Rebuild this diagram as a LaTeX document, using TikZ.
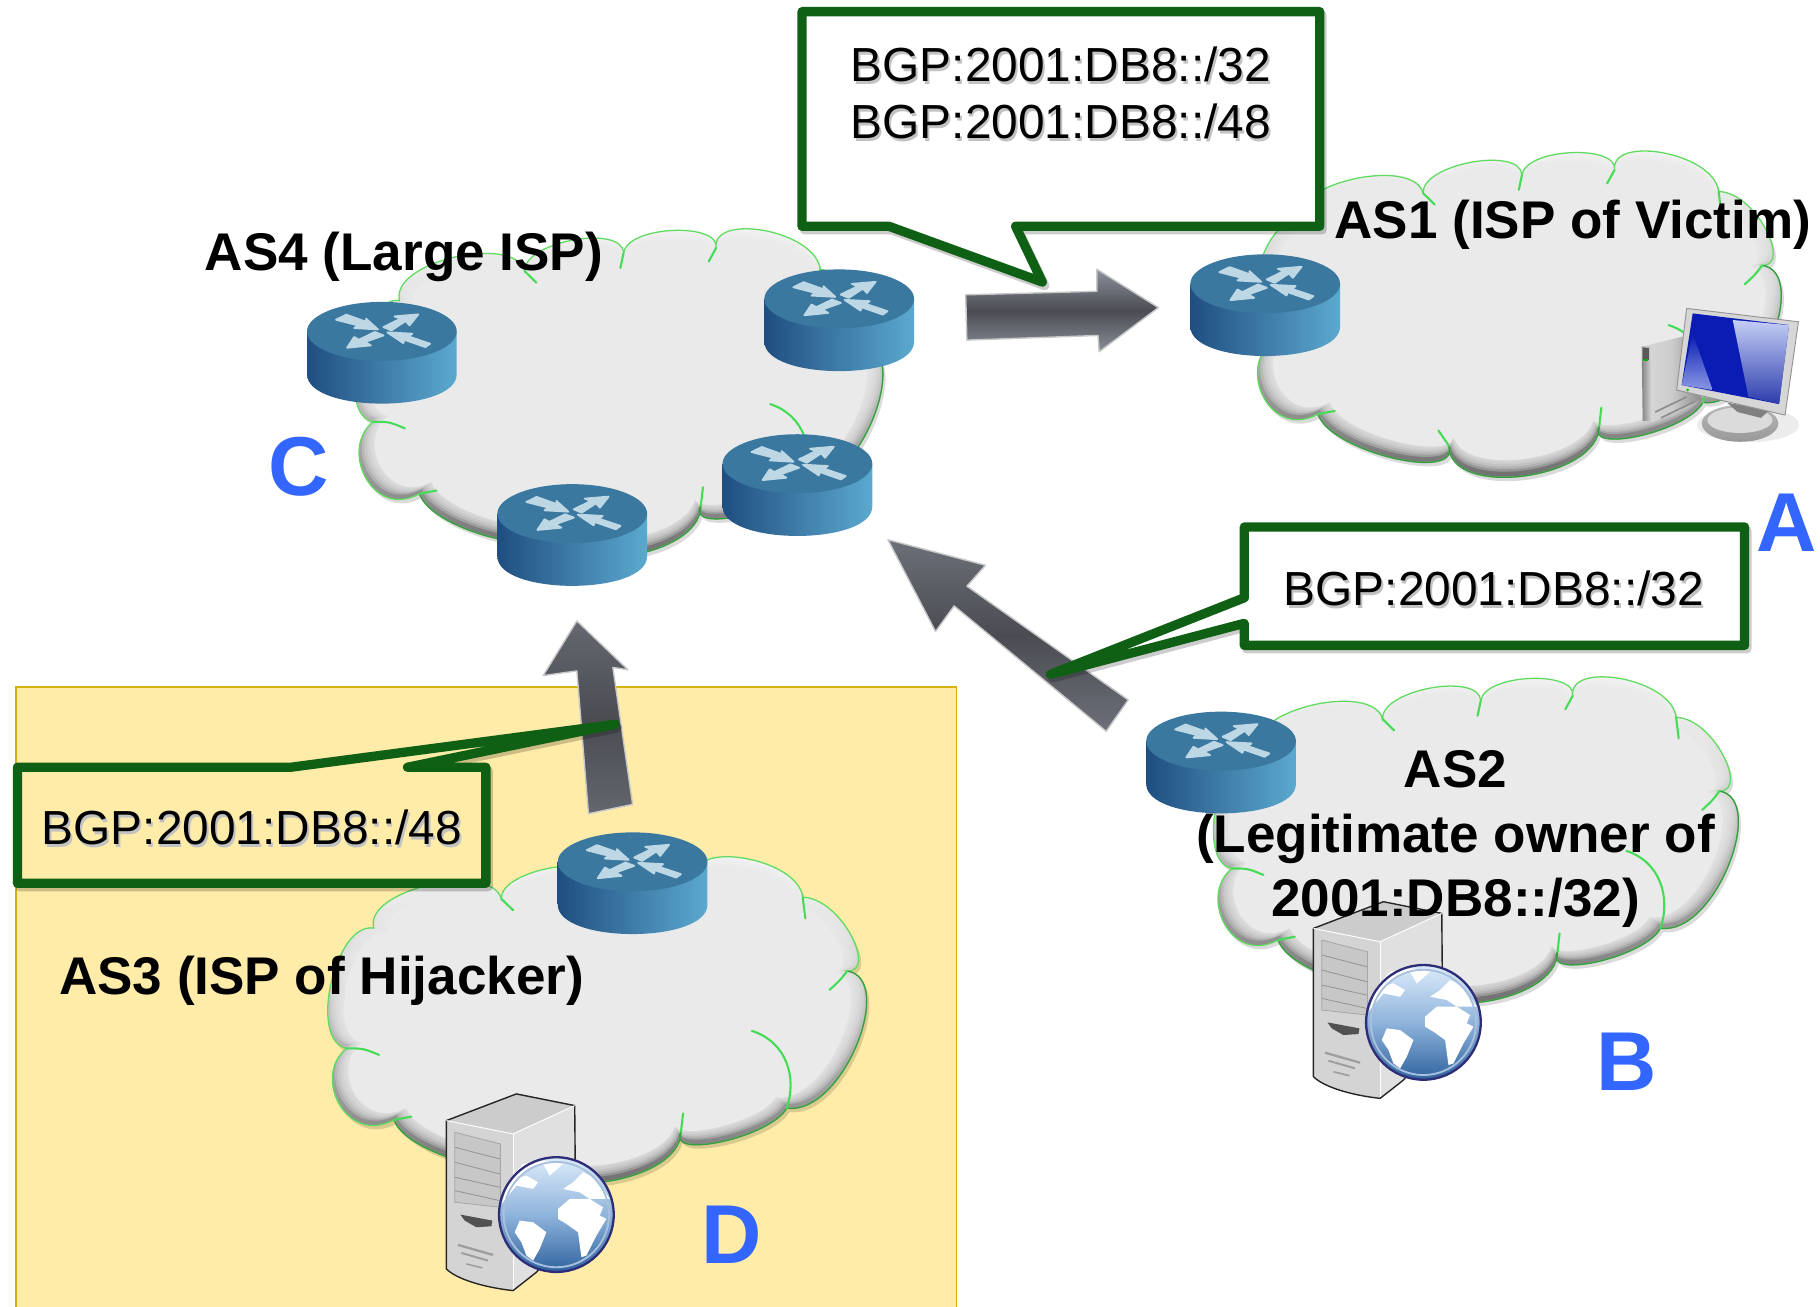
\documentclass[tikz,border=0pt]{standalone}
\usepackage{fontspec}
\setmainfont{Liberation Sans}
\definecolor{bgyel}{HTML}{FFECA8}
\definecolor{bgedge}{HTML}{D6B00C}
\definecolor{cgreen}{HTML}{0F5F14}
\definecolor{cloudg}{HTML}{EAEAEA}
\definecolor{cloudl}{HTML}{5FDC5F}
\definecolor{cloudd}{HTML}{3C9A44}
\definecolor{cloudt}{HTML}{45DC55}
\definecolor{rtop}{HTML}{3B78A0}
\definecolor{rleft}{HTML}{1F4E80}
\definecolor{rmid}{HTML}{3F7CA8}
\definecolor{rright}{HTML}{5BA9CF}
\definecolor{rarr}{HTML}{BDD7E5}
\definecolor{lblue}{HTML}{3366FF}
\definecolor{adark}{HTML}{4A4C52}
\definecolor{aedge}{HTML}{9CA1AC}
\definecolor{globet}{HTML}{DCEBFA}
\definecolor{globem}{HTML}{8FB4DC}
\definecolor{globeb}{HTML}{2F639F}
\definecolor{glober}{HTML}{2E2E78}
\definecolor{globei}{HTML}{A9C0DC}
\definecolor{scrn}{HTML}{0A1CB4}
\definecolor{scrnl}{HTML}{C4CEF6}
\definecolor{scrnd}{HTML}{2C3CAC}
\definecolor{scrns}{HTML}{8A98E4}
\newcommand\cloudP{(.03,.59) .. controls (-.043,.57) and (.007,.2) .. (.08,.22)
 .. controls (.061,.10) and (.299,.015) .. (.318,.13)
 .. controls (.315,.04) and (.503,-.015) .. (.506,.074)
 .. controls (.514,-.01) and (.69,-.02) .. (.682,.059)
 .. controls (.674,-.05) and (.872,.005) .. (.88,.125)
 .. controls (.951,.127) and (1.02,.354) .. (.963,.352)
 .. controls (1.055,.375) and (.955,.797) .. (.85,.774)
 .. controls (.821,.863) and (.624,.935) .. (.653,.846)
 .. controls (.653,1.011) and (.367,1.072) .. (.367,.907)
 .. controls (.39,1.022) and (.141,.925) .. (.118,.81)
 .. controls (.026,.89) and (-.035,.67) .. (.03,.59) -- cycle}
\newcommand\shtext[1]{\rlap{\kern1.5pt\raisebox{-2.5pt}{\textcolor{black!24}{#1}}}#1}
\tikzset{
 bgptext/.style={font=\fontsize{41.2}{49}\selectfont,inner sep=0pt,align=center,text=black},
 aslabel/.style={font=\fontsize{45.7}{55.5}\selectfont\bfseries,inner sep=0pt,align=center,text=black},
 bigletter/.style={font=\fontsize{72}{72}\selectfont\bfseries,inner sep=0pt,text=lblue},
 callout/.style={draw=cgreen,line width=8pt,line join=round,line cap=round},
 calloutshadow/.style={draw=black,opacity=.2,line width=8pt,line join=round,line cap=round},
 arrowrim/.style={draw=black!22,line width=1.2pt,line join=round},
 bump/.style={draw=cloudl,line width=1.1pt,line cap=round},
 bumpdark/.style={draw=cloudd,line width=1.1pt,line cap=round},
 bumptail/.style={draw=cloudt,line width=1.8pt,line cap=round},
 cloudshape/.pic={
   \fill[black,opacity=.14,shift={(.005,.012)}] \cloudP;
   \shade[top color=white,bottom color=black!60,middle color=black!25] \cloudP;
   \foreach \s in {.985,.97,.955,.94,.925}{
    \begin{scope}[shift={(.5,.49)},xscale={1-(1-\s)*.7},yscale=\s,shift={(-.5,-.5)}]
     \fill[cloudg,opacity=.3] \cloudP;
    \end{scope}}
   \begin{scope}[shift={(.5,.49)},xscale=.9405,yscale=.915,shift={(-.5,-.5)}]
    \fill[cloudg] \cloudP;
   \end{scope}
   \draw[bump] \cloudP;
   \draw[bumpdark] (.963,.352) .. controls (1.055,.375) and (.955,.797) .. (.85,.774)
     .. controls (.821,.863) and (.624,.935) .. (.653,.846)
     .. controls (.653,1.011) and (.367,1.072) .. (.367,.907)
     .. controls (.39,1.022) and (.141,.925) .. (.118,.81);
   \draw[bumptail] (.318,.13) -- (.34,.165);
   \draw[bumptail] (.506,.074) -- (.5,.12);
   \draw[bumptail] (.682,.059) -- (.668,.10);
   \draw[bumptail] (.88,.125) -- (.885,.19);
   \draw[bumptail] (.963,.352) .. controls (.95,.38) .. (.93,.41);
   \draw[bumptail] (.785,.536) .. controls (.85,.57) and (.87,.68) .. (.85,.774);
   \draw[bumptail] (.653,.846) -- (.657,.79);
   \draw[bumptail] (.367,.907) -- (.347,.86);
   \draw[bumptail] (.118,.81) -- (.15,.80);
   \draw[bumptail] (.03,.59) .. controls (.06,.59) .. (.09,.61);
  },
 routericon/.pic={
  \shade[left color=rleft,right color=rright,middle color=rmid]
    (-64.5,0) -- (-64.5,36.8) .. controls (-64.5,70.7) and (64.5,70.7) .. (64.5,36.8) -- (64.5,0) -- cycle;
  \fill[rtop] (0,0) ellipse [x radius=64.5pt,y radius=25.4pt];
  \begin{scope}[xscale=.3406,yscale=.2872,shift={(-208,-303)},fill=rarr,draw=rarr,line width=1.6pt,line join=round]
   \filldraw (92,268) -- (118,253) -- (170,275) -- (168,265) -- (198,297) -- (138,293) -- (148,285) -- cycle;
   \filldraw (212,290) -- (255,265) -- (240,258) -- (300,252) -- (278,285) -- (268,272) -- (232,300) -- cycle;
   \filldraw (190,305) -- (212,315) -- (165,335) -- (180,345) -- (120,352) -- (138,320) -- (150,328) -- cycle;
   \filldraw (222,306) -- (285,310) -- (275,318) -- (330,340) -- (318,350) -- (265,328) -- (262,338) -- cycle;
  \end{scope}},
 serverglobe/.pic={
  \begin{scope}[scale=.2872]
   \fill[black!20] (190,85) -- (400,5) -- (575,40) -- (390,125) -- cycle;
   \fill[black!12] (390,125) -- (575,40) -- (578,400) -- (460,540) -- (390,595) -- cycle;
   \fill[black!17] (190,85) -- (390,125) -- (390,595) .. controls (300,585) and (220,560) .. (190,530) -- cycle;
   \draw[black!85,line width=1.2pt,line join=round] (190,85) -- (400,5) -- (575,40) -- (578,400) -- (460,540) -- (390,595) .. controls (300,585) and (220,560) .. (190,530) -- cycle;
   \draw[white,line width=.8pt] (190,85) -- (390,125) -- (575,40);
   \draw[white,line width=.8pt] (390,125) -- (390,590);
   \fill[black!22] (215,120) -- (352,155) -- (352,345) -- (215,330) -- cycle;
   \draw[black!35,line width=.7pt] (215,120) -- (352,155) -- (352,345) -- (215,330) -- cycle;
   \draw[black!40,line width=.8pt] (215,165) -- (350,200) (215,210) -- (350,245) (215,255) -- (350,285) (215,295) -- (350,325);
   \fill[black!68] (232,367) -- (328,385) -- (325,402) -- (280,405) -- (245,385) -- cycle;
   \draw[black!38,line width=2pt] (225,458) -- (330,488);
   \draw[black!38,line width=1.7pt] (235,482) -- (315,505);
   \draw[black!38,line width=1.4pt] (250,515) -- (298,527);
   \shade[top color=globet,bottom color=globeb,middle color=globem]
      (520,367) circle [radius=172pt];
   \fill[white] (525,350) -- (560,320) -- (620,320) -- (660,345) -- (650,370) -- (670,380) -- (640,430) -- (610,490) -- (595,495) -- (585,420) -- (550,395) -- (525,380) -- cycle;
   \fill[white] (395,420) -- (410,385) -- (450,390) -- (490,420) -- (470,470) -- (450,505) -- (430,490) -- (415,450) -- cycle;
   \fill[white] (355,335) -- (400,280) -- (450,290) -- (465,270) -- (430,250) -- (410,255) -- (440,225) -- (480,215) -- (500,250) -- (540,215) -- (480,205) -- (420,215) -- (380,260) -- cycle;
   \fill[white] (540,290) -- (570,270) -- (600,240) -- (640,260) -- (680,320) -- (620,320) -- (590,300) -- cycle;
   \draw[globei,line width=1.6pt] (520,367) circle [radius=158pt];
   \draw[glober,line width=2pt] (520,367) circle [radius=172pt];
  \end{scope}},
 pcicon/.pic={
  \fill[black!12,opacity=.6] (1506,366) ellipse [x radius=44pt,y radius=15pt];
  \shade[left color=black!15,right color=black!45,middle color=black!20] (1414.4,298.7) -- (1451.7,289.5) -- (1466,344) -- (1424,363.3) -- (1415.2,362.5) -- cycle;
  \shade[left color=black!48,right color=black!12] (1414.4,298.7) -- (1421.5,298.7) -- (1423.8,363.3) -- (1415.2,362.5) -- cycle;
  \fill[black!65] (1415.5,299.5) rectangle (1420.5,310);
  \fill[green!70!black] (1416.5,309) rectangle (1419.5,311);
  \draw[black!45,line width=1.4pt] (1426,355) -- (1453,342) (1431,360) -- (1460,346);
  \shade[top color=black!28,bottom color=black!40] (1499.1,364.8) ellipse [x radius=33pt,y radius=15.8pt];
  \fill[black!14] (1499,362) ellipse [x radius=28pt,y radius=11pt];
  \fill[black!50] (1488,347) -- (1525,353) -- (1517,360) -- (1497,355) -- cycle;
  \fill[black!16] (1453.1,265.7) -- (1549.4,277.2) -- (1537.9,357.6) -- (1444.5,336) -- cycle;
  \draw[black!42,line width=.8pt,line join=round] (1453.1,265.7) -- (1549.4,277.2) -- (1537.9,357.6) -- (1444.5,336) -- cycle;
  \fill[scrn] (1458.3,270) -- (1541.3,280) -- (1532.7,348.1) -- (1448.8,331.7) -- cycle;
  \shade[top color=scrnl,bottom color=scrnd] (1492.8,275.7) -- (1541.3,280.1) -- (1532.7,348.1) -- (1506.3,341.8) -- cycle;
  \shade[top color=scrn,bottom color=scrns] (1458.3,287.2) -- (1475.5,336) -- (1448.8,331.7) -- cycle;
  \fill[green!80!black] (1454,336) circle [radius=1.3pt];
 }
}
\newcommand\gradarrow[5]{% center x, y, rotation, half width, path
 \begin{scope}
  \clip #5;
  \begin{scope}[shift={(#1,#2)},rotate=#3]
   \shade[top color=aedge,bottom color=aedge,middle color=adark] (-260,-#4) rectangle (260,#4);
  \end{scope}
 \end{scope}
 \draw[arrowrim] #5;}
\begin{document}
\begin{tikzpicture}[x=1pt,y=-1pt]
\useasboundingbox (0,0) rectangle (1568,1125.2);
\fill[white] (0,0) rectangle (1568,1125.2);
% yellow panel
\draw[fill=bgyel,draw=bgedge,line width=1.5pt] (14,592) rectangle (824,1127);
% clouds
\pic (cl4) at (0,0) [shift={(308,197)},xscale=453,yscale=282] {cloudshape};
\pic (cl1) at (0,0) [shift={(1082,130)},xscale=453,yscale=280] {cloudshape};
\pic (cl2) at (0,0) [shift={(1048,583)},xscale=450,yscale=280] {cloudshape};
\pic (cl3) at (0,0) [shift={(285,738)},xscale=462,yscale=280] {cloudshape};
% end-host icons
\pic (pc) at (0,0) {pcicon};
\pic (srvB) at (1077,775.4) {serverglobe};
\pic (srvD) at (330,941) {serverglobe};
% routers
\pic (r1) at (1090,244.5) {routericon};
\pic (r2) at (329,285.5) {routericon};
\pic (r3) at (723,257.5) {routericon};
\pic (r4) at (687,399.5) {routericon};
\pic (r5) at (493,442.5) {routericon};
\pic (r6) at (1052,638.5) {routericon};
\pic (r7) at (545,742.5) {routericon};
% block arrows
\gradarrow{915}{268}{1.5}{38}{(832,254) -- (945,251) -- (945,232) -- (998,265) -- (947,303) -- (946,289) -- (833,293) -- cycle}
\gradarrow{868}{547}{-38}{46}{(765,465) -- (849,487) -- (833,505) -- (972,603) -- (953,630) -- (822,522) -- (806,544) -- cycle}
\gradarrow{510}{620}{100}{40}{(497,535) -- (541,577) -- (528,575) -- (545,693) -- (507,701) -- (497,578) -- (468,582) -- cycle}
% call-outs
\draw[calloutshadow,shift={(2,3)}] (691,10) -- (1137,10) -- (1137,195) -- (875,195) -- (898,243) -- (766,195) -- (691,195) -- cycle;
\draw[callout,fill=white] (691,10) -- (1137,10) -- (1137,195) -- (875,195) -- (898,243) -- (766,195) -- (691,195) -- cycle;
\draw[calloutshadow,shift={(2,3)}] (1072,454) -- (1503,454) -- (1503,556) -- (1072,556) -- (1072,537) -- (905,581) -- (1072,515) -- cycle;
\draw[callout,fill=white] (1072,454) -- (1503,454) -- (1503,556) -- (1072,556) -- (1072,537) -- (905,581) -- (1072,515) -- cycle;
\draw[calloutshadow,shift={(2,3)}] (15,661) -- (250.6,661) -- (530,624) -- (351,661) -- (418.6,661) -- (418.6,761) -- (15,761) -- cycle;
\draw[callout,fill=bgyel] (15,661) -- (250.6,661) -- (530,624) -- (351,661) -- (418.6,661) -- (418.6,761) -- (15,761) -- cycle;
% call-out texts
\node[bgptext] (t1) at (914,81) {\shtext{BGP:2001:DB8::/32}\\\shtext{BGP:2001:DB8::/48}};
\node[bgptext] (t2) at (1287,508) {\shtext{BGP:2001:DB8::/32}};
\node[bgptext] (t3) at (217,714) {\shtext{BGP:2001:DB8::/48}};
% AS labels
\node[aslabel] (as4) at (348,221) {AS4 (Large ISP)};
\node[aslabel] (as1) at (1355,194) {AS1 (ISP of Victim)};
\node[aslabel] (as2) at (1254,723) {AS2\\(Legitimate owner of\\2001:DB8::/32)};
\node[aslabel] (as3) at (277,845) {AS3 (ISP of Hijacker)};
% letters
\node[bigletter] (la) at (1539,450) {A};
\node[bigletter] (lb) at (1401,915) {B};
\node[bigletter] (lc) at (257,402) {C};
\node[bigletter] (ld) at (630,1064) {D};
\end{tikzpicture}
\end{document}
